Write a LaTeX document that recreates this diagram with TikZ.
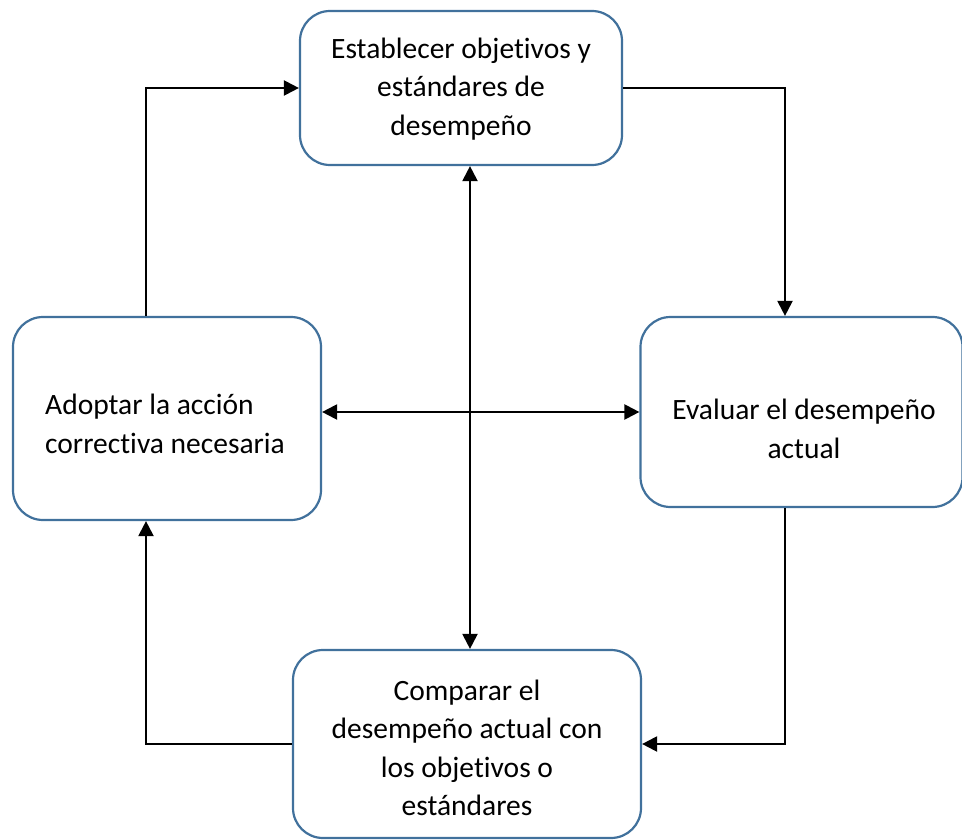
\documentclass[tikz,border=0pt]{standalone}
\usepackage{fontspec}
\setmainfont{Carlito}[Ligatures=NoCommon]
\usetikzlibrary{arrows.meta}
\definecolor{boxblue}{HTML}{41719C}
\begin{document}
\begin{tikzpicture}[x=1pt,y=-1pt,
  stage/.style={draw=boxblue, line width=2.2pt, rounded corners=30pt, inner sep=0pt, fill=white},
  lbl/.style={font=\fontsize{29.5}{38.5}\selectfont, inner sep=0pt},
  tip/.tip={Triangle[length=15pt,width=15pt]},
  flow/.style={draw=black, line width=2.2pt, -tip},
  both/.style={draw=black, line width=2.2pt, tip-tip}]
  \useasboundingbox (0,0) rectangle (962,840);

  % stage boxes
  \node[stage, minimum width=322pt, minimum height=154pt] (T) at (461,88) {};
  \node[stage, minimum width=322pt, minimum height=190pt] (R) at (801.5,412) {};
  \node[stage, minimum width=308pt, minimum height=203pt] (L) at (167,418.5) {};
  \node[stage, minimum width=348pt, minimum height=188pt] (B) at (467,744) {};

  % stage texts
  \node[lbl, align=center] (Tt) at (461,89) {Establecer objetivos y\\estándares de\\desempeño};
  \node[lbl, align=center] (Rt) at (804,429) {Evaluar el desempeño\\actual};
  \node[lbl, align=left, anchor=west] (Lt) at (45,424) {Adoptar la acción\\correctiva necesaria};
  \node[lbl, align=center] (Bt) at (467,748) {Comparar el\\desempeño actual con\\los objetivos o\\estándares};

  % routing helpers
  \coordinate (lx) at (146,0);
  \coordinate (rx) at (785,0);
  \coordinate (vx) at (470,0);
  \coordinate (hy) at (0,412);

  % cycle connectors
  \draw[flow] (L.north -| lx) |- (T.west);
  \draw[flow] (T.east) -| (R.north -| rx);
  \draw[flow] (R.south -| rx) |- (B.east);
  \draw[flow] (B.west) -| (L.south -| lx);

  % central cross
  \draw[both] (T.south -| vx) -- (B.north -| vx);
  \draw[both] (L.east |- hy) -- (R.west |- hy);
\end{tikzpicture}
\end{document}
